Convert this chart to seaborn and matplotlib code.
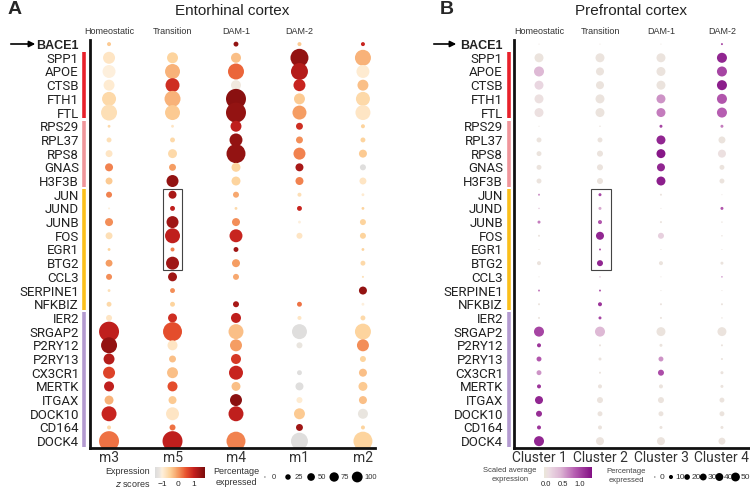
import numpy as np
import pandas as pd
import matplotlib
matplotlib.use('Agg')
import matplotlib.pyplot as plt
import matplotlib.colors as mcolors
from matplotlib.patches import Rectangle
from matplotlib.transforms import blended_transform_factory
import seaborn as sns

genes = ['BACE1', 'SPP1', 'APOE', 'CTSB', 'FTH1', 'FTL', 'RPS29', 'RPL37', 'RPS8', 'GNAS',
         'H3F3B', 'JUN', 'JUND', 'JUNB', 'FOS', 'EGR1', 'BTG2', 'CCL3', 'SERPINE1', 'NFKBIZ',
         'IER2', 'SRGAP2', 'P2RY12', 'P2RY13', 'CX3CR1', 'MERTK', 'ITGAX', 'DOCK10', 'CD164', 'DOCK4']
gene_groups = [('#e8202a', 1, 5), ('#f0959a', 6, 10), ('#fbbf1a', 11, 19), ('#b39ad0', 20, 29)]

# panel A: entorhinal cortex
clusters_a = ['m3', 'm5', 'm4', 'm1', 'm2']
states_a = ['Homeostatic', 'Transition', 'DAM-1', 'DAM-2']
pct_a = {
    'm3': [4, 36, 42, 30, 49, 64, 2, 6, 12, 16, 12, 9, 1, 16, 12, 2, 12, 9, 2, 6, 9, 100, 64, 30, 36, 25, 20, 56, 4, 100],
    'm5': [0, 30, 56, 49, 64, 56, 2, 6, 20, 12, 36, 16, 6, 36, 56, 4, 42, 20, 6, 6, 20, 90, 25, 12, 30, 25, 16, 42, 9, 100],
    'm4': [6, 25, 64, 25, 100, 100, 30, 42, 90, 20, 20, 9, 2, 16, 42, 6, 16, 9, 0, 9, 25, 56, 36, 25, 49, 20, 36, 56, 0, 90],
    'm1': [4, 81, 72, 36, 30, 49, 12, 12, 36, 16, 16, 4, 6, 2, 9, 0, 0, 0, 0, 6, 4, 56, 9, 0, 6, 16, 9, 30, 12, 72],
    'm2': [4, 64, 42, 30, 49, 56, 4, 6, 16, 9, 12, 2, 2, 9, 9, 2, 6, 1, 16, 2, 6, 64, 36, 9, 16, 20, 16, 25, 4, 90],
}
z_a = {
    'm3': [-0.4, -0.8, -1.0, -0.9, -0.6, -0.7, -0.6, -0.7, -0.8, 0.2, -0.4, 0.2, -1.0, 0.1, -0.7, -0.5, 0.0, 0.1, -0.7, -0.6, -0.8, 1.1, 1.5, 1.2, 0.7, 1.1, -0.2, 1.0, -0.6, 0.3],
    'm5': [0.0, -0.5, -0.2, 0.9, -0.2, -0.4, -0.8, -0.6, -0.6, 0.0, 1.5, 1.3, 1.1, 1.4, 1.1, 0.2, 1.4, 1.4, 0.1, -0.5, 0.9, 0.6, -0.8, -0.3, -0.3, 0.6, -0.4, -0.8, 0.3, 1.1],
    'm4': [1.5, -0.3, 0.4, -1.1, 1.6, 1.5, 1.1, 1.5, 1.5, -0.5, -0.5, -0.1, -0.6, 0.1, 1.0, 1.4, 0.0, -0.1, 0.0, 1.3, 1.1, -0.3, 0.0, 0.8, 1.0, -0.3, 1.6, 1.1, 0.0, 0.2],
    'm1': [-0.4, 1.5, 1.2, 1.0, -0.4, 0.0, 0.9, 0.1, 0.2, 1.3, 0.2, -0.7, 1.0, -1.0, -0.8, 0.0, 0.0, 0.0, 0.0, 0.3, -0.8, -1.4, -1.2, 0.0, -1.4, -1.4, -0.9, -0.4, 1.4, -1.4],
    'm2': [1.0, -0.2, -0.9, -0.3, -0.6, -0.8, -0.5, -0.5, -0.4, -1.4, -0.8, -0.9, -0.5, -0.5, -0.5, -0.5, -0.6, -0.7, 1.5, -1.0, -0.6, -0.5, 0.1, -0.5, -0.3, -0.4, -0.3, -1.2, -0.5, -0.5],
}
z_ticks = [-1, 0, 1]
pct_levels_a = [0, 25, 50, 75, 100]

# panel B: prefrontal cortex
clusters_b = ['Cluster 1', 'Cluster 2', 'Cluster 3', 'Cluster 4']
states_b = ['Homeostatic', 'Transition', 'DAM-1', 'DAM-2']
pct_b = {
    'Cluster 1': [0.5, 40, 50, 40, 40, 40, 0.5, 12, 12, 12, 12, 2, 1, 4.5, 2, 0.5, 8, 0.5, 2, 2, 2, 50, 8, 12, 12, 8, 32, 18, 8, 50],
    'Cluster 2': [0.5, 40, 32, 32, 40, 40, 1, 12, 18, 18, 18, 4.5, 4.5, 8, 32, 2, 18, 1, 2, 8, 4.5, 50, 2, 4.5, 2, 8, 18, 12, 8, 32],
    'Cluster 3': [0.5, 40, 40, 40, 40, 40, 4.5, 40, 40, 32, 40, 2, 0.5, 2, 18, 0.5, 8, 0.5, 0.5, 2, 2, 40, 4.5, 12, 18, 8, 18, 12, 4.5, 32],
    'Cluster 4': [2, 50, 50, 50, 50, 50, 4.5, 24, 32, 12, 12, 0.5, 4.5, 1, 1, 0.5, 4.5, 1, 0.5, 2, 1, 40, 2, 2, 4.5, 4.5, 12, 12, 4.5, 24],
}
expr_b = {
    'Cluster 1': [0, 0, 0.4, 0.15, 0.05, 0.05, 0, 0, 0, 0, 0, 0.6, 0.3, 0.7, 0, 0, 0, 0, 0.7, 0, 0, 1.0, 1.1, 0.9, 0.6, 1.1, 1.2, 1.15, 1.1, 1.2],
    'Cluster 2': [0, 0, 0, 0, 0, 0, 0, 0, 0, 0, 0, 1.0, 0.5, 0.9, 1.2, 0.9, 1.2, 0.4, 0.9, 1.1, 1.0, 0.4, 0, 0, 0, 0, 0, 0, 0, 0],
    'Cluster 3': [0, 0, 0, 0, 0.6, 0.7, 1.0, 1.2, 1.3, 1.2, 1.25, 0, 0, 0, 0.2, 0, 0, 0, 0, 0, 0, 0, 0, 0.6, 0.95, 0, 0, 0, 0, 0],
    'Cluster 4': [1.0, 1.2, 1.0, 1.25, 0.9, 0.85, 0.7, 0, 0.05, 0, 0, 0, 0.9, 0, 0, 0, 0, 0.7, 0, 0, 0, 0, 0, 0, 0, 0, 0, 0, 0, 0],
}
expr_ticks = [0.0, 0.5, 1.0]
pct_levels_b = [0, 10, 20, 30, 40, 50]


def long_table(clusters, pct, val):
    rows = []
    for c in clusters:
        for g, p, v in zip(genes, pct[c], val[c]):
            rows.append((c, g, p, v))
    return pd.DataFrame(rows, columns=['cluster', 'gene', 'pct', 'val'])


df_a = long_table(clusters_a, pct_a, z_a)
df_b = long_table(clusters_b, pct_b, expr_b)

cmap_a = mcolors.LinearSegmentedColormap.from_list(
    'zs', [(0, '#dcdcdc'), (0.09, '#ebe6e0'), (0.14, '#fef0dc'), (0.3, '#fdd39c'),
           (0.46, '#f59a60'), (0.62, '#e8532e'), (0.78, '#c4201e'), (1, '#7a0c0c')])
norm_a = mcolors.Normalize(-1.45, 1.75)
cmap_b = mcolors.LinearSegmentedColormap.from_list(
    'se', [(0, '#ebe7d9'), (0.1, '#ecdde3'), (0.35, '#dcb4d3'), (0.65, '#b55bb0'), (1, '#820f83')])
norm_b = mcolors.Normalize(-0.05, 1.35)

sns.set_style('white')
plt.rcParams['font.family'] = ['Liberation Sans', 'DejaVu Sans']
label_font = ['Roboto', 'Liberation Sans', 'DejaVu Sans']

W, H = 750, 490
fig = plt.figure(figsize=(7.5, 4.9), dpi=100)


def px(x0, y0, x1, y1):
    return [x0 / W, 1 - y1 / H, (x1 - x0) / W, (y1 - y0) / H]


def panel(ax, df, clusters, states, cmap, norm, smax, pmax, xlim, box_x):
    sns.scatterplot(data=df, x='cluster', y='gene', hue='val', size='pct',
                    palette=cmap, hue_norm=norm, sizes=(0, smax), size_norm=(0, pmax),
                    linewidth=0, legend=False, ax=ax)
    ax.set_xlim(*xlim)
    ax.set_ylim(29.5, -0.3)
    ax.set_xticks(range(len(clusters)))
    ax.set_xticklabels(clusters, fontsize=10, color='#333333', family=label_font)
    ax.set_yticks(range(len(genes)))
    ax.set_yticklabels(genes, fontsize=9.5, color='#222222', family=label_font)
    first = ax.get_yticklabels()[0]
    first.set_family(['Liberation Sans', 'DejaVu Sans'])
    first.set_fontweight('bold')
    first.set_fontsize(9)
    ax.tick_params(axis='both', length=0)
    ax.tick_params(axis='y', pad=8)
    ax.tick_params(axis='x', pad=2)
    ax.set_xlabel('')
    ax.set_ylabel('')
    for s in ['top', 'right']:
        ax.spines[s].set_visible(False)
    for s in ['left', 'bottom']:
        ax.spines[s].set_linewidth(2)
        ax.spines[s].set_color('#111111')
    tr = blended_transform_factory(ax.transData, ax.transAxes)
    for i, st in enumerate(states):
        ax.text(i, 1.022, st, transform=tr, ha='center', va='center', fontsize=6.5, color='#333333')
    tr2 = blended_transform_factory(ax.transAxes, ax.transData)
    for col, g0, g1 in gene_groups:
        ax.plot([-0.02, -0.02], [g0 - 0.42, g1 + 0.42], transform=tr2, color=col,
                lw=2.6, solid_capstyle='butt', clip_on=False)
    ax.add_patch(Rectangle((box_x[0], 10.55), box_x[1] - box_x[0], 5.95, fill=False,
                           edgecolor='#444444', lw=0.8))


ax_a = fig.add_axes(px(90, 40, 375, 448))
panel(ax_a, df_a, clusters_a, states_a, cmap_a, norm_a, 207, 100, (-0.3, 4.19), (0.85, 1.15))
ax_b = fig.add_axes(px(514, 40, 750, 448))
panel(ax_b, df_b, clusters_b, states_b, cmap_b, norm_b, 52, 50, (-0.41, 3.46), (0.85, 1.18))

# titles, panel letters, arrows
fig.text(232 / W, 1 - 11 / H, 'Entorhinal cortex', ha='center', va='center', fontsize=11, color='#222222')
fig.text(631 / W, 1 - 11 / H, 'Prefrontal cortex', ha='center', va='center', fontsize=11, color='#222222')
fig.text(8 / W, 1 - 10 / H, 'A', ha='left', va='center', fontsize=14, fontweight='bold')
fig.text(440 / W, 1 - 10 / H, 'B', ha='left', va='center', fontsize=14, fontweight='bold')
for x0, x1 in [(8, 38), (431, 459)]:
    fig.add_artist(matplotlib.patches.FancyArrowPatch(
        (x0 / W, 1 - 44 / H), (x1 / W, 1 - 44 / H), transform=fig.transFigure,
        arrowstyle='-|>', mutation_scale=9, color='black', lw=1.2))

# colour legends
sm_a = plt.cm.ScalarMappable(norm=norm_a, cmap=cmap_a)
cax_a = fig.add_axes(px(155, 467, 205, 478))
cb = fig.colorbar(sm_a, cax=cax_a, orientation='horizontal', ticks=z_ticks)
cb.outline.set_visible(False)
cb.ax.tick_params(length=0, labelsize=6, pad=2)
cb.ax.set_xticklabels(['\u22121', '0', '1'])
fig.text(150 / W, 1 - 471 / H, 'Expression', ha='right', va='center', fontsize=6.5, color='#333333')
fig.text(150 / W, 1 - 484 / H, '$z$ scores', ha='right', va='center', fontsize=6.5, color='#333333')

sm_b = plt.cm.ScalarMappable(norm=norm_b, cmap=cmap_b)
cax_b = fig.add_axes(px(544, 467, 592, 478))
cb = fig.colorbar(sm_b, cax=cax_b, orientation='horizontal', ticks=expr_ticks)
cb.outline.set_visible(False)
cb.ax.tick_params(length=0, labelsize=5.5, pad=2)
fig.text(510 / W, 1 - 475 / H, 'Scaled average\nexpression', ha='center', va='center',
         fontsize=5.5, color='#444444', linespacing=1.4)

# size legends
fig.text(236 / W, 1 - 477 / H, 'Percentage\nexpressed', ha='center', va='center',
         fontsize=6.5, color='#333333', linespacing=1.3)
fig.text(626 / W, 1 - 476 / H, 'Percentage\nexpressed', ha='center', va='center',
         fontsize=5.5, color='#444444', linespacing=1.4)


def size_legend(rect, levels, smax, pmax, step, fs):
    lax = fig.add_axes(px(*rect))
    xs = np.arange(len(levels)) * step
    lax.scatter(xs, np.zeros(len(levels)), s=np.array(levels) / pmax * smax + 0.6,
                color='black', linewidths=0)
    for x, lv in zip(xs, levels):
        lax.text(x + 0.3, 0, str(lv), ha='left', va='center', fontsize=fs, color='#333333')
    lax.set_xlim(-0.3, xs[-1] + 0.9)
    lax.set_ylim(-1, 1)
    lax.axis('off')


size_legend((258, 467, 378, 487), pct_levels_a, 60, 100, 1, 5.5)
size_legend((650, 467, 750, 487), pct_levels_b, 40, 50, 1, 6)

fig.savefig('out.png', dpi=100)
